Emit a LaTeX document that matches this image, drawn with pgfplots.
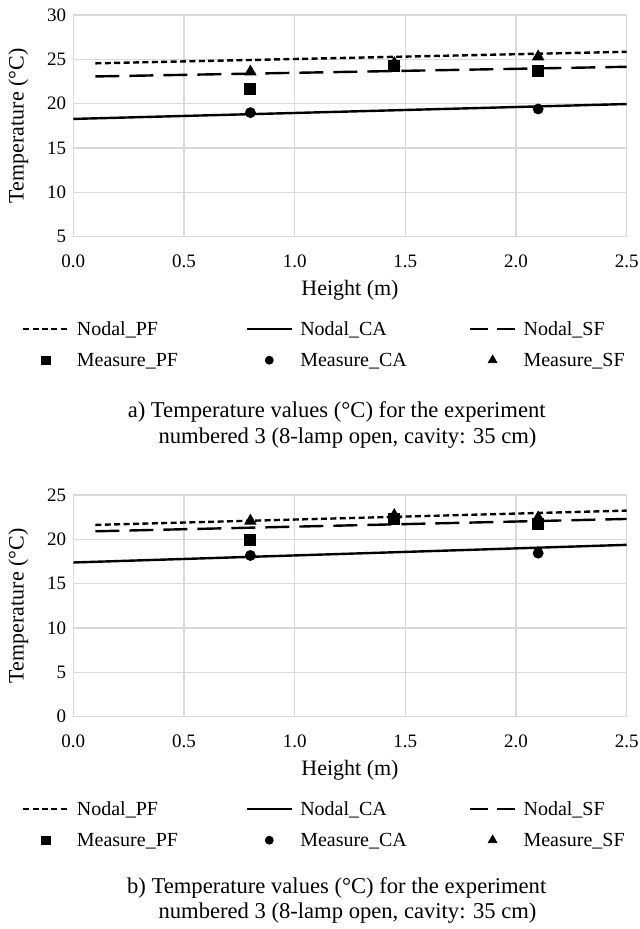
\documentclass[border=0pt]{standalone}
\usepackage{fontspec}
\setmainfont{Liberation Serif}
\usepackage{pgfplots}
\pgfplotsset{compat=1.18}
\definecolor{gridgray}{RGB}{217,217,217}
\newcommand{\capfont}{\fontsize{11.3}{13}\selectfont}
\pgfplotsset{
 mychart/.style={
  scale only axis, width=276.7pt, height=110.85pt,
  anchor=south west,
  xmin=0, xmax=2.5, xtick={0,0.5,1,1.5,2,2.5},
  /pgf/number format/assume math mode=true,
  xticklabel style={/pgf/number format/fixed, /pgf/number format/fixed zerofill, /pgf/number format/precision=1, /tikz/font=\fontsize{9.5}{11}\selectfont, /tikz/yshift=-5.4pt},
  yticklabel style={/tikz/font=\fontsize{9.5}{11}\selectfont},
  major tick length=0pt, tick style={draw=none},
  grid=major, grid style={gridgray, line width=0.6pt},
  axis line style={gridgray, line width=0.6pt},
  xlabel={Height (m)}, ylabel={Temperature (°C)},
  label style={font=\fontsize{11}{13}\selectfont},
  xlabel style={at={(axis description cs:0.5,-0.2409)}, anchor=center},
  ylabel style={at={(axis description cs:-0.0994,0.5)}, anchor=center},
  legend columns=3,
  legend cell align=left,
  legend style={draw=none, fill=none, at={(axis description cs:-0.0927,-0.3744)}, anchor=north west,
    inner sep=0pt, outer sep=0pt, row sep=6pt, column sep=0pt,
    font=\fontsize{10}{12}\selectfont,
    nodes={inner sep=0pt, outer sep=0pt, text height=8pt, text depth=1.5pt},
    /tikz/every odd column/.style={column sep=3.5pt},
    /tikz/every even column/.style={column sep=0pt}},
  legend image code/.code={\draw[mark repeat=2,mark phase=2,##1] plot coordinates {(0cm,0cm) (0.4cm,0cm) (0.8cm,0cm)};},
 },
 pfline/.style={black, line width=1.2pt, dash pattern=on 3pt off 1.7pt},
 caline/.style={black, line width=1.2pt},
 sfline/.style={black, line width=1.2pt, dash pattern=on 12pt off 5pt,
   legend image code/.code={\draw[##1, dash pattern=on 9pt off 4.8pt] (0cm,0cm) -- (0.8cm,0cm);}},
 pfmark/.style={black, only marks, mark=square*, mark size=2.75pt,
   legend image code/.code={\draw[mark repeat=2,mark phase=2,##1, mark size=2.1pt] plot coordinates {(0cm,0cm) (0.4cm,0cm) (0.8cm,0cm)};}},
 camark/.style={black, only marks, mark=*, mark size=2.5pt,
   legend image code/.code={\draw[mark repeat=2,mark phase=2,##1, mark size=2.0pt] plot coordinates {(0cm,0cm) (0.4cm,0cm) (0.8cm,0cm)};}},
 sfmark/.style={black, only marks, mark=triangle*, mark size=3.2pt,
   legend image code/.code={\draw[mark repeat=2,mark phase=2,##1, mark size=2.5pt] plot coordinates {(0cm,0cm) (0.4cm,0cm) (0.8cm,0cm)};}},
}
\begin{document}
\begin{tikzpicture}
\path[use as bounding box] (0,0) rectangle (319.5pt,-464.5pt);
\begin{axis}[mychart, at={(36.65pt,-118.35pt)}, ymin=5, ymax=30, ytick={5,10,15,20,25,30}]
\addplot[pfline] coordinates {(0.1,24.55) (2.5,25.85)};
\addlegendentry{\makebox[84.2pt][l]{Nodal\_PF}}
\addplot[caline] coordinates {(0,18.28) (2.5,19.96)};
\addlegendentry{\makebox[84.2pt][l]{Nodal\_CA}}
\addplot[sfline] coordinates {(0.1,23.07) (2.5,24.16)};
\addlegendentry{Nodal\_SF}
\addplot[pfmark] coordinates {(0.8,21.69) (1.45,24.23) (2.1,23.71)};
\addlegendentry{\makebox[84.2pt][l]{Measure\_PF}}
\addplot[camark] coordinates {(0.8,18.99) (2.1,19.40)};
\addlegendentry{\makebox[84.2pt][l]{Measure\_CA}}
\addplot[sfmark] coordinates {(0.8,23.6) (1.45,24.57) (2.1,25.3)};
\addlegendentry{Measure\_SF}
\end{axis}
\node[font=\capfont] at (168.35pt,-206.2pt) {a) Temperature values (°C) for the experiment};
\node[font=\capfont] at (173.75pt,-218.9pt) {numbered 3 (8-lamp open, cavity: 35 cm)};
\begin{axis}[mychart, at={(36.65pt,-358.35pt)}, ymin=0, ymax=25, ytick={0,5,10,15,20,25}]
\addplot[pfline] coordinates {(0.1,21.63) (2.5,23.24)};
\addlegendentry{\makebox[84.2pt][l]{Nodal\_PF}}
\addplot[caline] coordinates {(0,17.39) (2.5,19.38)};
\addlegendentry{\makebox[84.2pt][l]{Nodal\_CA}}
\addplot[sfline] coordinates {(0.1,20.91) (2.5,22.30)};
\addlegendentry{Nodal\_SF}
\addplot[pfmark] coordinates {(0.8,19.94) (1.45,22.26) (2.1,21.70)};
\addlegendentry{\makebox[84.2pt][l]{Measure\_PF}}
\addplot[camark] coordinates {(0.8,18.18) (2.1,18.44)};
\addlegendentry{\makebox[84.2pt][l]{Measure\_CA}}
\addplot[sfmark] coordinates {(0.8,22.08) (1.45,22.71) (2.1,22.45)};
\addlegendentry{Measure\_SF}
\end{axis}
\node[font=\capfont] at (168.35pt,-444.2pt) {b) Temperature values (°C) for the experiment};
\node[font=\capfont] at (173.75pt,-456.7pt) {numbered 3 (8-lamp open, cavity: 35 cm)};
\end{tikzpicture}
\end{document}
